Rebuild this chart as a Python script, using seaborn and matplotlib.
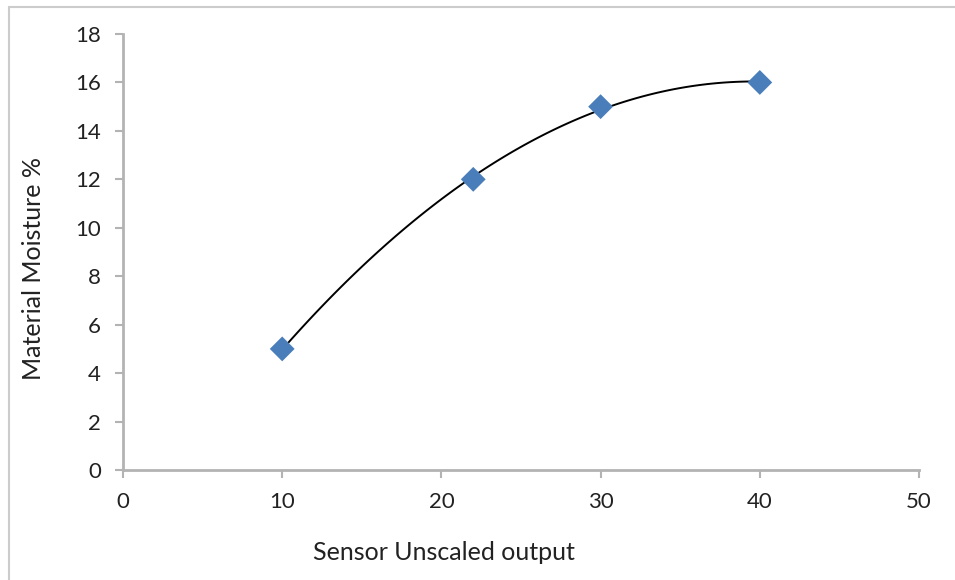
import pandas as pd
import matplotlib
matplotlib.use('Agg')
import matplotlib.pyplot as plt
from matplotlib.lines import Line2D
import seaborn as sns

sensor_output = [10, 22, 30, 40]
moisture_pct = [5, 12, 15, 16]
x_ticks = [0, 10, 20, 30, 40, 50]
y_ticks = [0, 2, 4, 6, 8, 10, 12, 14, 16, 18]

sns.set_style('white')
plt.rcParams['font.family'] = ['Lato', 'DejaVu Sans']

df = pd.DataFrame({'x': sensor_output, 'y': moisture_pct})

fig = plt.figure(figsize=(9.55, 5.8), dpi=100)
ax = fig.add_axes([123 / 955, 1 - 470 / 580, (919 - 123) / 955, (470 - 34) / 580])

# 2nd order polynomial trend line, clipped to the data range
sns.regplot(data=df, x='x', y='y', order=2, ci=None, scatter=False, truncate=True,
            line_kws={'color': 'black', 'lw': 1.4, 'zorder': 2}, ax=ax)
sns.scatterplot(data=df, x='x', y='y', marker='D', s=160, color='#4a7ebb',
                edgecolor='none', ax=ax, zorder=3)

ax.set_xlim(0, 50)
ax.set_ylim(0, 18)
ax.set_xticks(x_ticks)
ax.set_yticks(y_ticks)
ax.tick_params(axis='both', direction='out', length=6, width=1.5, color='#b3b3b3',
               labelsize=16, labelcolor='#222222', pad=10, bottom=True, left=True)
for side in ['top', 'right']:
    ax.spines[side].set_visible(False)
for side in ['left', 'bottom']:
    ax.spines[side].set_color('#b3b3b3')
    ax.spines[side].set_linewidth(2)

ax.set_xlabel('Sensor Unscaled output', fontsize=18, color='#222222', va='center')
ax.set_ylabel('Material Moisture %', fontsize=18, color='#222222', va='center')
ax.xaxis.set_label_coords((444 - 123) / (919 - 123), -(553 - 470) / (470 - 34), transform=ax.transAxes)
ax.yaxis.set_label_coords(-(123 - 33) / (919 - 123), (470 - 268) / (470 - 34), transform=ax.transAxes)

# outer chart border
fig.add_artist(Line2D([9 / 955, 1], [1 - 7 / 580, 1 - 7 / 580], color='#cccccc', lw=1.5))
fig.add_artist(Line2D([9 / 955, 9 / 955], [0, 1 - 7 / 580], color='#cccccc', lw=1.5))

fig.savefig('out.png', dpi=100)
